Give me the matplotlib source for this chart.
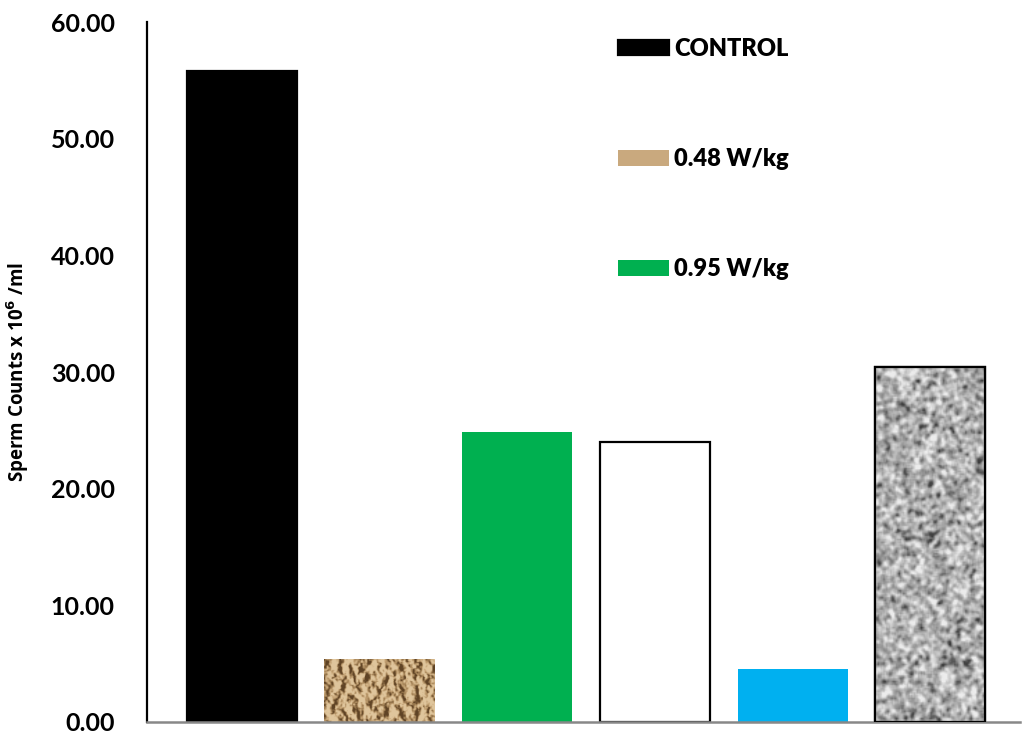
import numpy as np
import matplotlib.pyplot as plt
from matplotlib.colors import LinearSegmentedColormap

groups = ["CONTROL", "0.48 W/kg", "0.95 W/kg", "group 4", "group 5", "group 6"]
counts = [55.8, 5.4, 24.9, 24.0, 4.5, 30.4]
legend_names = ["CONTROL", "0.48 W/kg", "0.95 W/kg"]
yticks = [0, 10, 20, 30, 40, 50, 60]

plt.rcParams['font.family'] = ['Lato', 'DejaVu Sans']
plt.rcParams['font.weight'] = 'bold'


def blur(img, k):
    kern = np.ones(k) / k
    img = np.apply_along_axis(lambda r: np.convolve(r, kern, mode='same'), 0, img)
    img = np.apply_along_axis(lambda r: np.convolve(r, kern, mode='same'), 1, img)
    return img


def noise(shape, k, seed):
    rng = np.random.default_rng(seed)
    n = blur(blur(rng.standard_normal(shape), k), k)
    return (n - n.mean()) / n.std()


# crumpled paper look for the second bar: tan with dark creases
n1 = noise((80, 130), 7, 1) + 0.3 * noise((80, 130), 3, 2)
crease = np.clip(np.abs(n1) / 0.4, 0, 1)
relief = np.gradient(n1, axis=1) * 1.8
paper = np.clip(0.25 + 0.5 * crease + relief, 0, 1)
paper_cmap = LinearSegmentedColormap.from_list("paper", ["#5f4325", "#9c7b50", "#c4a274", "#dfc59c"])

# granite look for the last bar
granite = noise((250, 80), 3, 3) + 0.4 * noise((250, 80), 2, 4)
granite_cmap = LinearSegmentedColormap.from_list("granite", ["#404040", "#8c8c8c", "#bdbdbd", "#ececec"])

fig = plt.figure(figsize=(10.27, 7.35), dpi=100)
ax = fig.add_axes([0.143, 0.0177, 0.85, 0.9523])

x = np.arange(len(counts))
faces = ["black", "#c9a97e", "#00b050", "white", "#00b0f0", "#a0a0a0"]
edges = ["black", "none", "none", "black", "none", "black"]
bars = ax.bar(x, counts, width=0.8, color=faces, edgecolor=edges, linewidth=1.6, zorder=2)

for b, tex, cm, lo, hi in [(bars[1], paper, paper_cmap, 0, 1),
                           (bars[5], granite, granite_cmap, -3.0, 2.2)]:
    x0, y0 = b.get_x(), b.get_y()
    im = ax.imshow(tex, extent=[x0, x0 + b.get_width(), y0, y0 + b.get_height()],
                   aspect='auto', cmap=cm, vmin=lo, vmax=hi, zorder=2, interpolation='bilinear')
    im.set_clip_path(b)

# outline of the granite bar above its texture
ax.bar(x[5], counts[5], width=0.8, color='none', edgecolor='black', linewidth=1.6, zorder=3)

ax.set_xlim(-0.69, 5.65)
ax.set_ylim(0, 60)
ax.set_yticks(yticks)
ax.set_yticklabels([f"{v:.2f}" for v in yticks], fontsize=18, fontweight='bold')
ax.tick_params(axis='y', length=0, pad=23)
ax.set_xticks([])

for s in ['top', 'right']:
    ax.spines[s].set_visible(False)
ax.spines['left'].set_linewidth(1.6)
ax.spines['left'].set_color('black')
ax.spines['bottom'].set_color('#888888')
ax.spines['bottom'].set_linewidth(1.8)

ax.set_ylabel("Sperm Counts x 10$^{\\mathbf{6}}$ /ml", fontsize=13.5, fontweight='bold',
              family=['Open Sans', 'DejaVu Sans'], labelpad=14)

leg = ax.legend(bars[:3], legend_names, loc='upper left', bbox_to_anchor=(0.5157, 1.008),
                frameon=False, handlelength=2.16, handleheight=0.64,
                labelspacing=3.74, handletextpad=0.21,
                prop={'family': ['Lato', 'DejaVu Sans'], 'weight': 'heavy', 'size': 17})

fig.savefig("out.png", dpi=100)
